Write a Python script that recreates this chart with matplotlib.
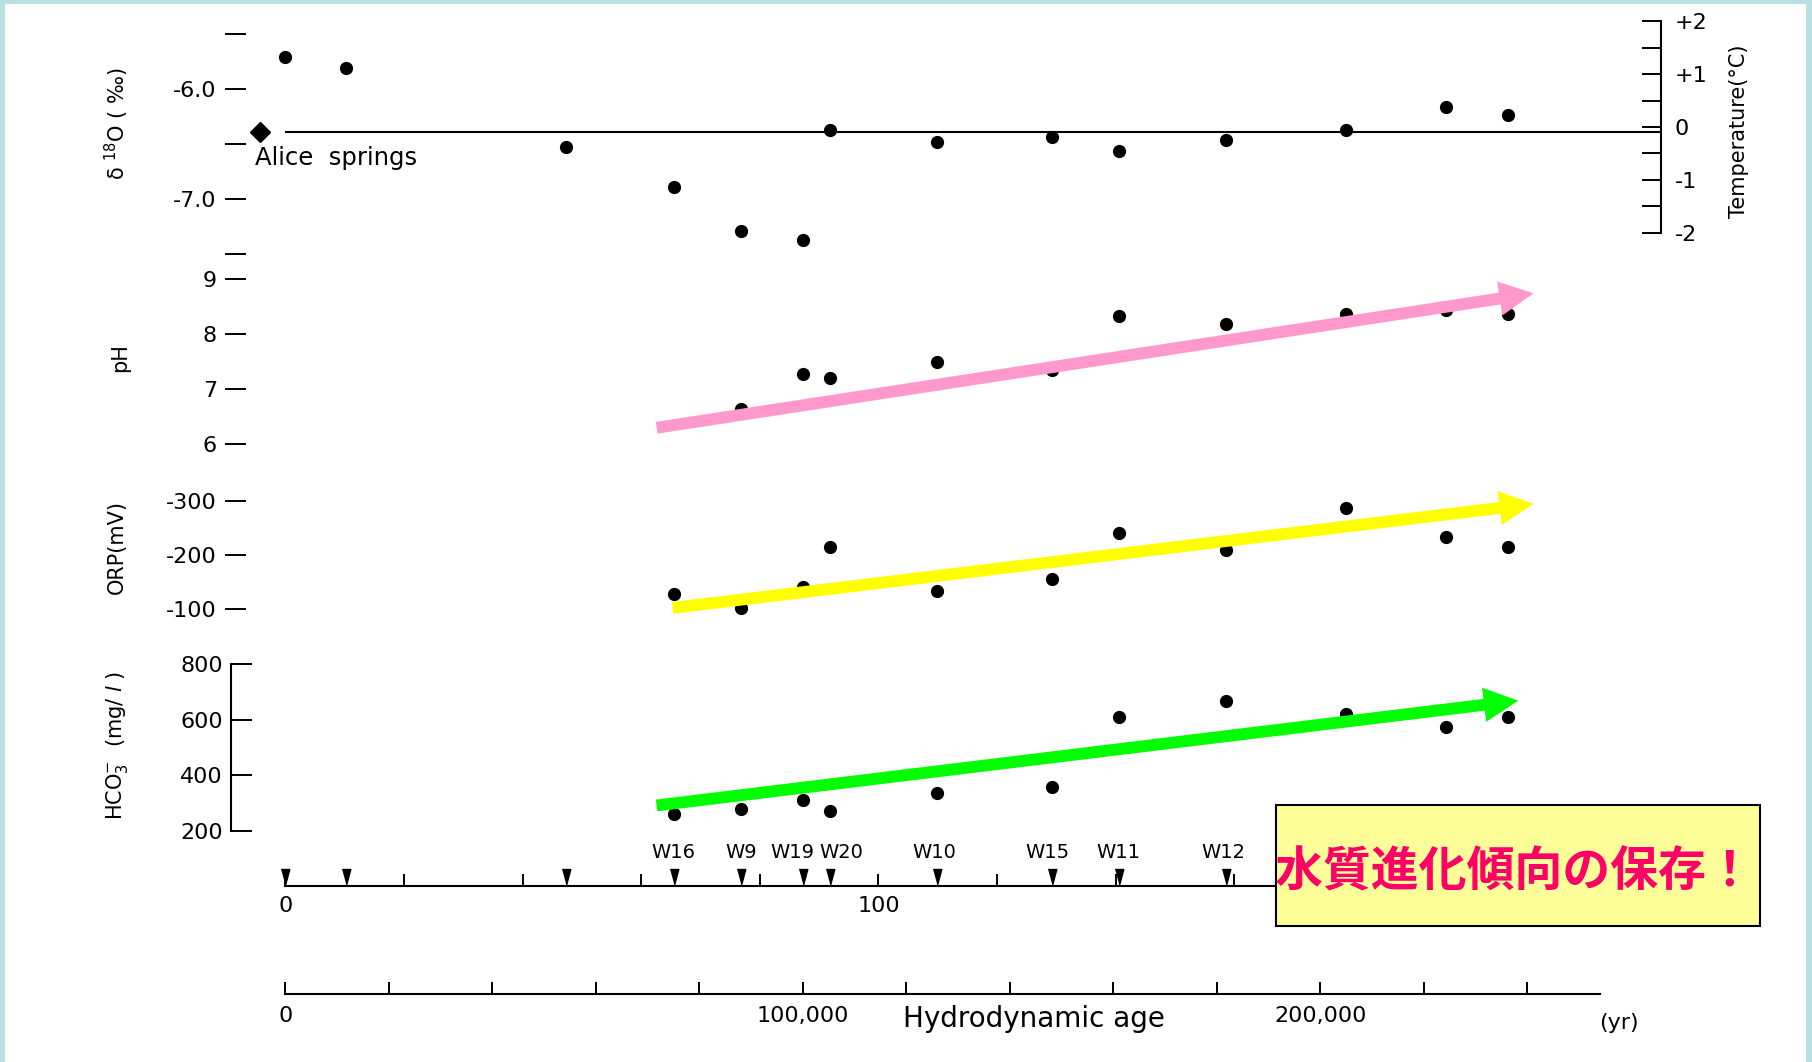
import numpy as np
import matplotlib.pyplot as plt
from matplotlib.patches import Rectangle

plt.rcParams['axes.unicode_minus'] = False
nan = np.nan

# sampling points along the flow path (upper scale, 0-100 ...)
well_pos = [0, 10.3, 47.4, 65.5, 76.8, 87.3, 91.8, 109.9, 129.2, 140.5, 158.6, 178.9, 195.7, 206.2]
well_names = ['', '', '', 'W16', 'W9', 'W19', 'W20', 'W10', 'W15', 'W11', 'W12', '', '', '']
label_dx = [0, 0, 0, 0, 0, -7.5, 8.3, -2, -3, 0, -2, 0, 0, 0]

d18o = [-5.71, -5.81, -6.53, -6.89, -7.29, -7.37, -6.37, -6.48, -6.44, -6.56, -6.46, -6.37, -6.16, -6.24]
ph = [nan, nan, nan, nan, 6.64, 7.28, 7.21, 7.49, 7.34, 8.33, 8.18, 8.36, 8.44, 8.36]
orp = [nan, nan, nan, -127, -101, -140, -214, -134, -156, -241, -208, -286, -232, -214]
hco3 = [nan, nan, nan, 261, 277, 311, 272, 337, 356, 610, 666, 620, 573, 611]

alice_pos = -4.2
alice_d18o = -6.39

# trend arrows (start, end) in each panel's units
trend_ph = ((62.6, 6.30), (210.5, 8.74))
trend_orp = ((65.3, -102), (210.5, -294))
trend_hco3 = ((62.6, 291), (207.9, 669))

# temperature scale on the d18O panel
t_zero = -6.345
t_per_deg = 0.48

age_ticks = list(range(0, 240001, 20000))
age_labels = {0: '0', 100000: '100,000', 200000: '200,000'}
dist_ticks = list(range(0, 221, 20))
dist_labels = {0: '0', 100: '100'}

# ---- layout (pixels of the 1812x1062 picture) ----
W, H = 1812, 1062
X0, PXD = 285.4, 5.93     # pixel of 0 on the upper scale, px per unit
PXA = 0.005175            # px per year on the lower scale
XR = 1661                 # right edge (temperature axis)


def box(x0, y0, x1, y1):
    return [x0 / W, 1 - y1 / H, (x1 - x0) / W, (y1 - y0) / H]


def xspan(x0, x1, per=PXD):
    return ((x0 - X0) / per, (x1 - X0) / per)


fig = plt.figure(figsize=(W / 100, H / 100), dpi=100, facecolor='#b9e1e4')
fig.add_artist(Rectangle((5 / W, 0), (1806 - 5) / W, 1 - 4 / H, transform=fig.transFigure,
                         fc='white', ec='none', zorder=-10))


def panel(y0, y1, left):
    ax = fig.add_axes(box(left, y0, XR, y1))
    ax.set_facecolor('none')
    ax.set_xlim(*xspan(left, XR))
    for s in ax.spines.values():
        s.set_visible(False)
    ax.set_xticks([])
    ax.tick_params(axis='y', direction='out', length=15, width=1.4, pad=6, labelsize=16)
    return ax


def trend(ax, pts, color):
    ax.annotate('', xy=pts[1], xytext=pts[0], zorder=5,
                arrowprops=dict(arrowstyle='simple,head_length=1.3,head_width=1.3,tail_width=0.45',
                                mutation_scale=19, fc=color, ec='none', shrinkA=0, shrinkB=0))


dot = dict(ls='none', marker='o', color='k', ms=8.5)

# d18O / temperature
ax1 = panel(15, 262, 246)
lo, hi = -6.0 - (262 - 89) / 110, -6.0 - (15 - 89) / 110
ax1.set_ylim(lo, hi)
ax1.set_yticks([-5.5, -6.0, -6.5, -7.0, -7.5], ['', '-6.0', '', '-7.0', ''])
ax1.hlines(alice_d18o, 0, xspan(246, XR)[1], color='k', lw=1.5)
ax1.plot([alice_pos], [alice_d18o], ls='none', marker='D', color='k', ms=10.5)
ax1.text(alice_pos - 0.9, alice_d18o - 0.24, 'Alice  springs', ha='left', va='center', fontsize=17.5)
ax1.plot(well_pos, d18o, **dot)

tx = ax1.twinx()
tx.set_ylim((lo - t_zero) / t_per_deg, (hi - t_zero) / t_per_deg)
for k, s in tx.spines.items():
    s.set_visible(k == 'right')
tx.spines['right'].set_bounds(-2, 2)
tx.spines['right'].set_linewidth(1.5)
tx.set_yticks([-2, -1, 0, 1, 2], ['-2', '-1', '0', '+1', '+2'])
tx.set_yticks([-1.5, -0.5, 0.5, 1.5], minor=True)
tx.tick_params(which='both', direction='in', length=14, width=1.4, pad=10, labelsize=16)

# pH
ax2 = panel(262, 470, 246)
ax2.set_ylim(9 - (470 - 279) / 55.1, 9 - (262 - 279) / 55.1)
ax2.set_yticks([6, 7, 8, 9])
ax2.plot(well_pos, ph, **dot)
trend(ax2, trend_ph, '#ff99cc')

# ORP
ax3 = panel(470, 645, 246)
ax3.set_ylim(-100 + (645 - 609) / 0.542, -100 - (609 - 470) / 0.542)
ax3.set_yticks([-300, -200, -100])
ax3.plot(well_pos, orp, **dot)
trend(ax3, trend_orp, '#ffff00')

# HCO3
ax4 = panel(645, 850, 231)
ax4.set_ylim(200 - (850 - 830.7) / 0.2773, 200 + (830.7 - 645) / 0.2773)
ax4.spines['left'].set_visible(True)
ax4.spines['left'].set_bounds(200, 800)
ax4.spines['left'].set_linewidth(1.5)
ax4.set_yticks([200, 400, 600, 800])
ax4.tick_params(axis='y', direction='in', length=15, pad=6)
ax4.plot(well_pos, hco3, **dot)
trend(ax4, trend_hco3, '#00ff00')

# well markers on the upper scale
axw = fig.add_axes(box(246, 820, XR, 886))
axw.set_facecolor('none')
axw.set_xlim(*xspan(246, XR))
axw.set_ylim(0, 66)
for k, s in axw.spines.items():
    s.set_visible(k == 'bottom')
axw.spines['bottom'].set_bounds(0, 240)
axw.spines['bottom'].set_linewidth(1.5)
axw.set_yticks([])
axw.set_xticks(dist_ticks, [dist_labels.get(t, '') for t in dist_ticks])
axw.tick_params(axis='x', direction='in', length=9, width=1.4, pad=7, labelsize=16)
tri = [(-0.27, 0.5), (0.27, 0.5), (0, -0.5)]
axw.plot(well_pos, [9] * len(well_pos), ls='none', marker=tri, ms=11.5, color='k', clip_on=False)
for x, name, dx in zip(well_pos, well_names, label_dx):
    axw.annotate(name, (x, 34), xytext=(dx, 0), textcoords='offset points',
                 ha='center', va='center', fontsize=14)

# hydrodynamic age scale
axa = fig.add_axes(box(246, 940, XR, 994))
axa.set_facecolor('none')
axa.set_xlim(*xspan(246, XR, PXA))
for k, s in axa.spines.items():
    s.set_visible(k == 'bottom')
axa.spines['bottom'].set_bounds(0, 254000)
axa.spines['bottom'].set_linewidth(1.5)
axa.set_yticks([])
axa.set_xticks(age_ticks, [age_labels.get(t, '') for t in age_ticks])
axa.tick_params(axis='x', direction='in', length=9, width=1.4, pad=8.5, labelsize=16)
fig.text(1034 / W, 1 - 1019 / H, 'Hydrodynamic age', ha='center', va='center', fontsize=20)
fig.text(1619 / W, 1 - 1023 / H, '(yr)', ha='center', va='center', fontsize=16)

# axis titles
fig.text(117 / W, 1 - 123 / H, r'δ $^{18}$O ( ‰)', rotation=90, ha='center', va='center', fontsize=15)
fig.text(120 / W, 1 - 358 / H, 'pH', rotation=90, ha='center', va='center', fontsize=15)
fig.text(117 / W, 1 - 547 / H, 'ORP(mV)', rotation=90, ha='center', va='center', fontsize=15)
fig.text(117 / W, 1 - 745 / H, r'HCO$_3^{-}$  (mg/ $l$ )', rotation=90, ha='center', va='center', fontsize=15)
fig.text(1739 / W, 1 - 131 / H, 'Temperature(°C)', rotation=90, ha='center', va='center', fontsize=15)

# message box
fig.add_artist(Rectangle((1276 / W, 1 - 926 / H), (1760 - 1276) / W, (926 - 805) / H,
                         transform=fig.transFigure, fc='#ffff99', ec='k', lw=1.5, zorder=10))
fig.text(1514 / W, 1 - 872 / H, '水質進化傾向の保存！', family=['Noto Sans CJK JP'], weight='bold',
         color='#ff0066', fontsize=34.5, ha='center', va='center', zorder=11)

fig.savefig('out.png', dpi=100)
